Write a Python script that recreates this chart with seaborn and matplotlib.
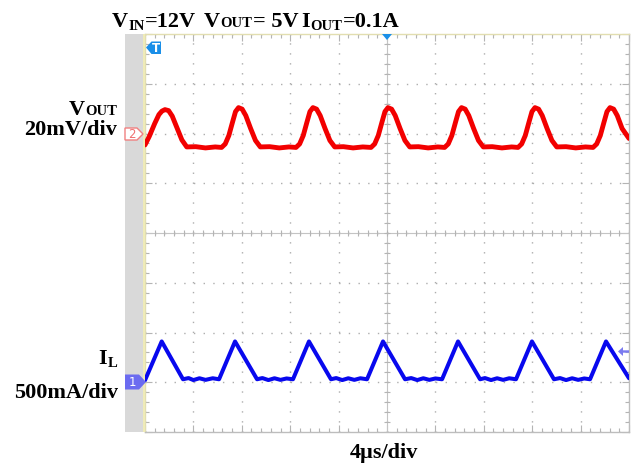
import numpy as np
import pandas as pd
import matplotlib
matplotlib.use("Agg")
import matplotlib.pyplot as plt
from matplotlib.patches import Polygon, Rectangle
import seaborn as sns

# ---------------- data ----------------
# Channel 2: output voltage ripple (AC, mV) vs time (us)
vout_t = [0.00, 0.35, 0.80, 1.15, 1.40, 1.65, 1.95, 2.25, 2.65, 3.05, 3.45, 4.20, 5.00, 5.80,
          6.33, 6.63, 6.93, 7.23, 7.48, 7.73, 8.03, 8.33, 8.73, 9.13, 9.53, 10.3, 11.1, 11.9,
          12.48, 12.78, 13.08, 13.38, 13.63, 13.88, 14.18, 14.48, 14.88, 15.28, 15.68, 16.4, 17.2, 18.0,
          18.68, 18.98, 19.28, 19.58, 19.83, 20.08, 20.38, 20.68, 21.08, 21.48, 21.88, 22.6, 23.4, 24.2,
          24.76, 25.06, 25.36, 25.66, 25.91, 26.16, 26.46, 26.76, 27.16, 27.56, 27.96, 28.7, 29.5, 30.3,
          30.83, 31.13, 31.43, 31.73, 31.98, 32.23, 32.53, 32.83, 33.23, 33.63, 34.03, 34.8, 35.6, 36.4,
          37.03, 37.33, 37.63, 37.93, 38.18, 38.43, 38.73, 39.03, 39.43, 40.0]
vout_mv = [-4.6, -1.2, 4.0, 7.6, 9.0, 9.6, 9.2, 7.0, 2.2, -2.6, -5.4, -5.3, -5.8, -5.4,
           -5.6, -4.2, -0.8, 4.5, 8.8, 10.4, 9.8, 7.2, 2.0, -2.8, -5.4, -5.3, -5.8, -5.4,
           -5.6, -4.2, -0.8, 4.5, 8.8, 10.4, 9.8, 7.2, 2.0, -2.8, -5.4, -5.3, -5.8, -5.4,
           -5.6, -4.2, -0.8, 4.5, 8.8, 10.4, 9.8, 7.2, 2.0, -2.8, -5.4, -5.3, -5.8, -5.4,
           -5.6, -4.2, -0.8, 4.5, 8.8, 10.4, 9.8, 7.2, 2.0, -2.8, -5.4, -5.3, -5.8, -5.4,
           -5.6, -4.2, -0.8, 4.5, 8.8, 10.4, 9.8, 7.2, 2.0, -2.8, -5.4, -5.3, -5.8, -5.4,
           -5.6, -4.2, -0.8, 4.5, 8.8, 10.4, 9.8, 7.2, 2.0, -2.0]

# Channel 1: inductor current (A) vs time (us)
il_t = [0.00, 1.38, 3.14, 3.6, 4.0, 4.5, 5.0, 5.6, 6.12,
        7.44, 9.26, 9.7, 10.2, 10.7, 11.2, 11.7, 12.23,
        13.55, 15.37, 15.8, 16.3, 16.8, 17.3, 17.8, 18.35,
        19.67, 21.49, 22.0, 22.5, 23.0, 23.5, 24.0, 24.55,
        25.87, 27.69, 28.1, 28.6, 29.1, 29.6, 30.1, 30.66,
        31.98, 33.80, 34.3, 34.8, 35.3, 35.8, 36.3, 36.78,
        38.10, 40.0]
il_a = [0.02, 0.41, 0.03, 0.042, 0.022, 0.04, 0.024, 0.04, 0.03,
        0.41, 0.03, 0.042, 0.022, 0.04, 0.024, 0.038, 0.03,
        0.41, 0.03, 0.042, 0.022, 0.04, 0.024, 0.04, 0.03,
        0.41, 0.03, 0.042, 0.022, 0.04, 0.024, 0.038, 0.03,
        0.41, 0.03, 0.042, 0.022, 0.04, 0.024, 0.04, 0.03,
        0.41, 0.03, 0.042, 0.022, 0.04, 0.024, 0.038, 0.03,
        0.41, 0.04]

# scope settings
time_div_us = 4.0
ch2_scale_mv = 20.0   # mV/div
ch2_offset_div = 2.0
ch1_scale_a = 0.5     # A/div
ch1_offset_div = -3.0

title_groups = [[("V", "n"), ("IN", "sub"), ("=12V", "n")],
                [("V", "n"), ("OUT", "sc"), ("= 5V", "n")],
                [("I", "n"), ("OUT", "sub"), ("=0.1A", "n")]]

# ---------------- figure ----------------
W, H = 632, 467
sns.set_theme(style="white")
plt.rcParams["lines.scale_dashes"] = False
serif = ["Liberation Serif", "DejaVu Serif"]

fig = plt.figure(figsize=(W / 100, H / 100), dpi=100, facecolor="white")
renderer = fig.canvas.get_renderer()

def fx(x):
    return x / W

def fy(y):
    return 1 - y / H

L, R, T, B = 145, 629, 34, 432
ax = fig.add_axes([fx(L), fy(B), (R - L) / W, (B - T) / H])
ax.set_facecolor("white")

# grey side strip
fig.patches.append(Rectangle((fx(125), fy(B)), (143 - 125) / W, (B - T) / H,
                             transform=fig.transFigure, fc="#d9d9d9", ec="none", zorder=0))
fig.patches.append(Rectangle((fx(143), fy(B)), 2.2 / W, (B - T) / H,
                             transform=fig.transFigure, fc="#efebb8", ec="none", zorder=0))

df2 = pd.DataFrame({"t": vout_t, "v": vout_mv})
df2["div"] = df2["v"] / ch2_scale_mv + ch2_offset_div
df1 = pd.DataFrame({"t": il_t, "i": il_a})
df1["div"] = df1["i"] / ch1_scale_a + ch1_offset_div

sns.lineplot(data=df2, x="t", y="div", ax=ax, color="#f20000", lw=3.5,
             estimator=None, sort=False, zorder=6)
sns.lineplot(data=df1, x="t", y="div", ax=ax, color="#0808ee", lw=2.9,
             estimator=None, sort=False, zorder=6)

ax.set_xlim(0, 10 * time_div_us)
ax.set_ylim(-4, 4)
ax.set_xlabel("")
ax.set_ylabel("")

# graticule
ax.set_xticks(np.arange(0, 10 * time_div_us + 0.01, time_div_us))
ax.set_yticks(np.arange(-4, 4.01, 1))
ax.set_xticks(np.arange(0, 10 * time_div_us + 0.01, time_div_us / 5), minor=True)
ax.set_yticks(np.arange(-4, 4.01, 0.2), minor=True)
ax.tick_params(which="both", direction="in", top=True, right=True, bottom=True, left=True,
               labelbottom=False, labelleft=False, color="#b4b4b4", width=0.8)
ax.tick_params(which="major", length=5)
ax.tick_params(which="minor", length=3)
ax.xaxis.grid(True, which="major", ls=(0, (1.0, 6.16)), lw=1.0, color="#adadad")
ax.yaxis.grid(True, which="major", ls=(0, (1.0, 5.97)), lw=1.0, color="#adadad")
ax.axhline(0, color="#c4c4c4", lw=0.8, zorder=1)
ax.axvline(5 * time_div_us, color="#c4c4c4", lw=0.8, zorder=1)
ax.vlines(np.arange(0, 10 * time_div_us + 0.01, time_div_us / 5), -0.06, 0.06,
          color="#b4b4b4", lw=0.8, zorder=1)
ax.hlines(np.arange(-4, 4.01, 0.2), 5 * time_div_us - 0.25, 5 * time_div_us + 0.25,
          color="#b4b4b4", lw=0.8, zorder=1)
for s in ["top", "left"]:
    ax.spines[s].set_color("#e2deb0")
for s in ["bottom", "right"]:
    ax.spines[s].set_color("#bdbdbd")
for s in ax.spines.values():
    s.set_linewidth(1.0)

# markers (decorations, pixel placed)
def poly(pts, **kw):
    fig.patches.append(Polygon([(fx(x), fy(y)) for x, y in pts], closed=True,
                               transform=fig.transFigure, **kw))

tblue = "#1a8fe8"
poly([(146, 47.5), (151.5, 41.5), (161, 41.5), (161, 54), (151.5, 54)], fc=tblue, ec="none", zorder=10)
fig.text(fx(155.8), fy(48), "T", color="white", fontsize=8.5, fontweight="bold",
         ha="center", va="center", family="DejaVu Sans", zorder=11)
poly([(382, 34), (392, 34), (387, 40)], fc=tblue, ec="none", zorder=10)

poly([(125, 128), (137, 128), (143, 134), (137, 140), (125, 140)], fc="white",
     ec="#f08080", lw=1.0, zorder=10)
fig.text(fx(131.5), fy(134), "2", color="#f07070", fontsize=8.5,
         ha="center", va="center", family="DejaVu Sans", zorder=11)
poly([(125, 374.5), (139, 374.5), (146, 382), (139, 389.5), (125, 389.5)], fc="#6b6bf0",
     ec="none", zorder=10)
fig.text(fx(132), fy(382), "1", color="white", fontsize=8.5,
         ha="center", va="center", family="DejaVu Sans", zorder=11)
poly([(618, 351.5), (623, 347), (623, 350.3), (629, 350.3), (629, 352.7), (623, 352.7),
      (623, 356)], fc="#7b7bf0", ec="none", zorder=10)

# ---------------- text ----------------
big = 16
small = 10.5

def put(x, y, s, size, ha="left"):
    tx = fig.text(fx(x), fy(y), s, fontsize=size, fontweight="bold", family=serif,
                  ha=ha, va="baseline", color="black")
    bb = tx.get_window_extent(renderer)
    return tx, bb

def run_left(x, y, parts):
    for s, kind in parts:
        size = big if kind == "n" else small
        dy = 2.5 if kind == "sub" else 0
        _, bb = put(x, y + dy, s, size)
        x = bb.x1 + 0.5

def run_right(xr, y, parts):
    for s, kind in reversed(parts):
        size = big if kind == "n" else small
        dy = 3 if kind == "sub" else 0
        _, bb = put(xr, y + dy, s, size, ha="right")
        xr = bb.x0 - 0.5

# title
for x0, grp in zip([112, 204, 301], title_groups):
    run_left(x0, 27, grp)

# channel 2 label
run_right(117, 115, [("V", "n"), ("OUT", "sc")])
put(117, 135, "20mV/div", 16, ha="right")

# channel 1 label
run_right(117, 364, [("I", "n"), ("L", "sub")])
put(118, 398, "500mA/div", 16, ha="right")

# time base
put(350, 458, "4\u00b5s/div", 16)

fig.savefig("out.png", dpi=100, facecolor="white")
